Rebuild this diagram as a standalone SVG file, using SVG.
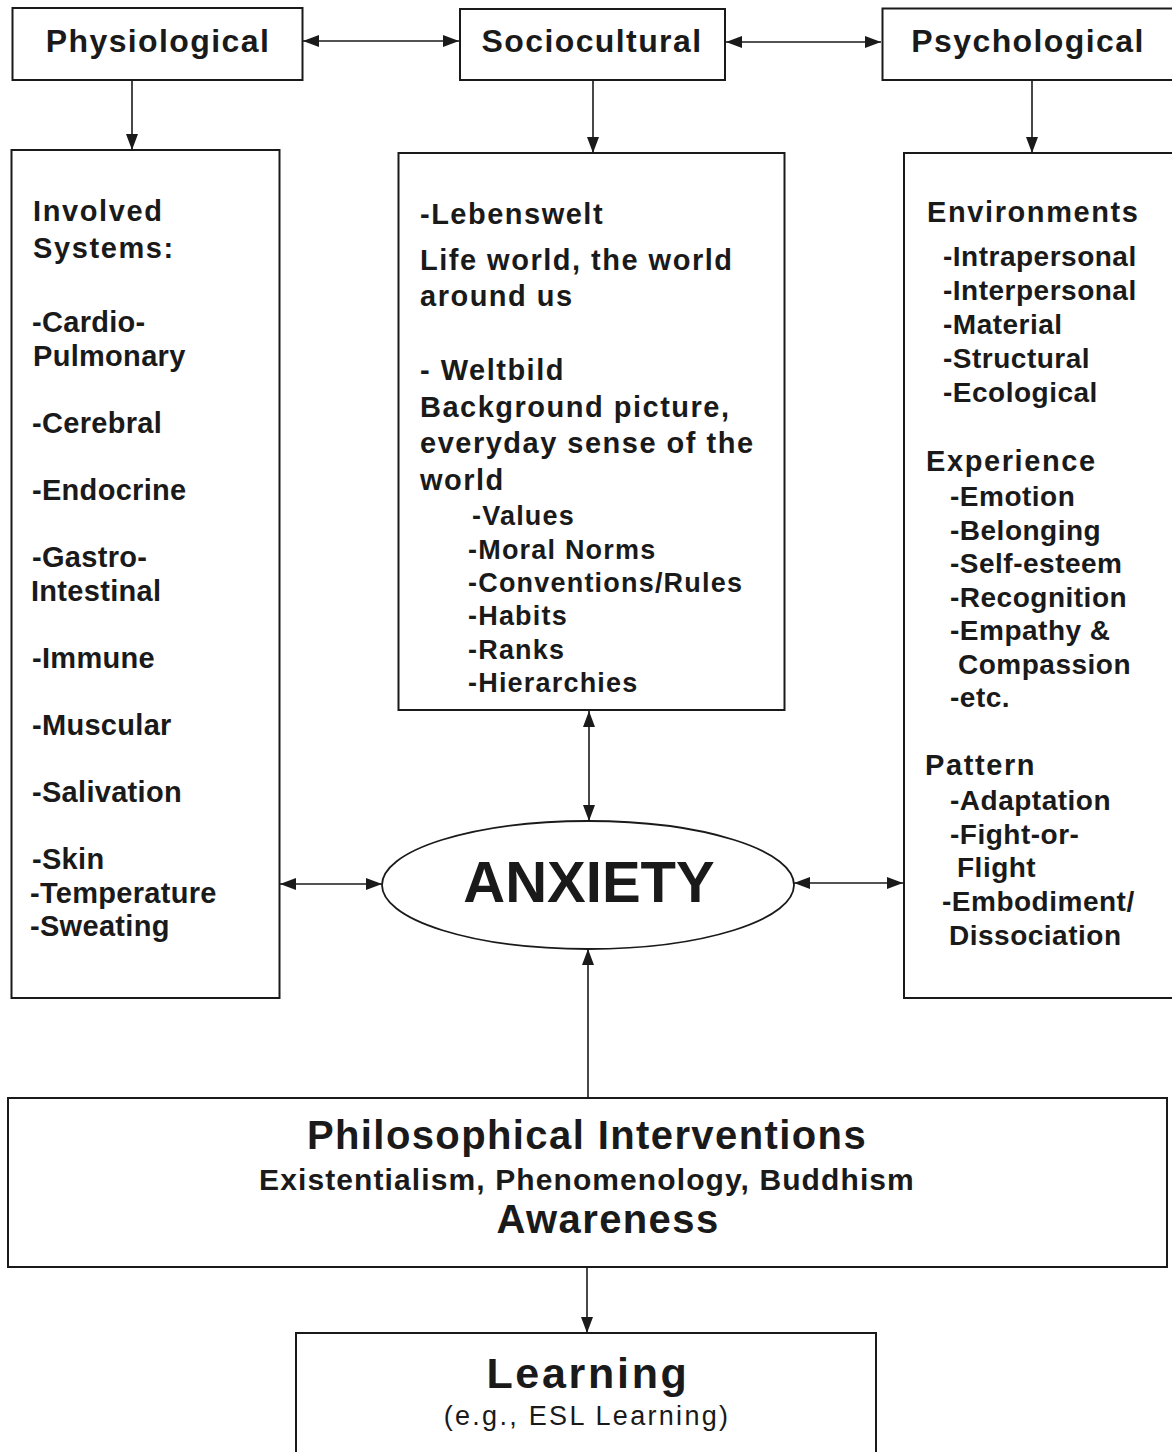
<svg xmlns="http://www.w3.org/2000/svg" width="1172" height="1452" viewBox="0 0 1172 1452">
<defs>
<marker id="ah" viewBox="0 0 16 12" refX="16" refY="6" markerWidth="16" markerHeight="12" markerUnits="userSpaceOnUse" orient="auto-start-reverse">
<path d="M0,0 L16,6 L0,12 z" fill="#1a1a1a"/>
</marker>
</defs>
<style>
text{font-family:"Liberation Sans",Arial,Helvetica,sans-serif;font-weight:bold;fill:#1a1a1a}
.box{fill:#fff;stroke:#1a1a1a;stroke-width:2}
.con{fill:none;stroke:#1a1a1a;stroke-width:1.6}
.top{font-size:32px;letter-spacing:1.4px}
.hd{font-size:29px;letter-spacing:1.6px}
.li{font-size:29px;letter-spacing:0.3px}
.mh{font-size:29px;letter-spacing:1.5px}
.ms{font-size:27px;letter-spacing:1.2px}
.ri{font-size:28px;letter-spacing:0.5px}
.c{text-anchor:middle}
</style>
<rect width="1172" height="1452" fill="#fff"/>

<g id="connectors">
<path class="con" d="M303,41 H459" marker-start="url(#ah)" marker-end="url(#ah)"/>
<path class="con" d="M726,42 H881" marker-start="url(#ah)" marker-end="url(#ah)"/>
<path class="con" d="M132,80 V150" marker-end="url(#ah)"/>
<path class="con" d="M593,80 V153" marker-end="url(#ah)"/>
<path class="con" d="M1032,80 V153" marker-end="url(#ah)"/>
<path class="con" d="M589,711 V821" marker-start="url(#ah)" marker-end="url(#ah)"/>
<path class="con" d="M280,884 H382" marker-start="url(#ah)" marker-end="url(#ah)"/>
<path class="con" d="M794,883 H903" marker-start="url(#ah)" marker-end="url(#ah)"/>
<path class="con" d="M588,1097 V949" marker-end="url(#ah)"/>
<path class="con" d="M587,1267 V1333" marker-end="url(#ah)"/>
</g>

<g id="physiological">
<rect class="box" x="12.5" y="8" width="290" height="72"/>
<text class="top c" x="158" y="52">Physiological</text>
</g>

<g id="sociocultural">
<rect class="box" x="460" y="9" width="265" height="71"/>
<text class="top c" x="592" y="52">Sociocultural</text>
</g>

<g id="psychological">
<rect class="box" x="882.5" y="8.5" width="300" height="71.5"/>
<text class="top c" x="1028" y="52">Psychological</text>
</g>

<g id="physiological-systems">
<rect class="box" x="11.5" y="150" width="268" height="848"/>
<text class="hd" x="33" y="221">Involved</text>
<text class="hd" x="33" y="258">Systems:</text>
<text class="li" x="32" y="332">-Cardio-</text>
<text class="li" x="33" y="366">Pulmonary</text>
<text class="li" x="32" y="433">-Cerebral</text>
<text class="li" x="32" y="500">-Endocrine</text>
<text class="li" x="32" y="567">-Gastro-</text>
<text class="li" x="31" y="601">Intestinal</text>
<text class="li" x="32" y="668">-Immune</text>
<text class="li" x="32" y="735">-Muscular</text>
<text class="li" x="32" y="802">-Salivation</text>
<text class="li" x="32" y="869">-Skin</text>
<text class="li" x="30" y="903">-Temperature</text>
<text class="li" x="30" y="936">-Sweating</text>
</g>

<g id="sociocultural-world">
<rect class="box" x="398.5" y="153" width="386" height="557"/>
<text class="mh" x="420" y="224">-Lebenswelt</text>
<text class="mh" x="420" y="270">Life world, the world</text>
<text class="mh" x="420" y="306">around us</text>
<text class="mh" x="420" y="380">- Weltbild</text>
<text class="mh" x="420" y="417">Background picture,</text>
<text class="mh" x="420" y="453">everyday sense of the</text>
<text class="mh" x="420" y="490">world</text>
<text class="ms" x="472" y="525">-Values</text>
<text class="ms" x="468" y="559">-Moral Norms</text>
<text class="ms" x="468" y="592">-Conventions/Rules</text>
<text class="ms" x="468" y="625">-Habits</text>
<text class="ms" x="468" y="659">-Ranks</text>
<text class="ms" x="468" y="692">-Hierarchies</text>
</g>

<g id="psychological-aspects">
<rect class="box" x="904" y="153" width="280" height="845"/>
<text class="hd" x="927" y="222">Environments</text>
<text class="ri" x="943" y="266">-Intrapersonal</text>
<text class="ri" x="943" y="300">-Interpersonal</text>
<text class="ri" x="943" y="334">-Material</text>
<text class="ri" x="943" y="368">-Structural</text>
<text class="ri" x="943" y="402">-Ecological</text>
<text class="hd" x="926" y="471">Experience</text>
<text class="ri" x="950" y="506">-Emotion</text>
<text class="ri" x="950" y="540">-Belonging</text>
<text class="ri" x="950" y="573">-Self-esteem</text>
<text class="ri" x="950" y="607">-Recognition</text>
<text class="ri" x="950" y="640">-Empathy &amp;</text>
<text class="ri" x="958" y="674">Compassion</text>
<text class="ri" x="950" y="707">-etc.</text>
<text class="hd" x="925" y="775">Pattern</text>
<text class="ri" x="950" y="810">-Adaptation</text>
<text class="ri" x="950" y="844">-Fight-or-</text>
<text class="ri" x="957" y="877">Flight</text>
<text class="ri" x="942" y="911">-Embodiment/</text>
<text class="ri" x="949" y="945">Dissociation</text>
</g>

<g id="anxiety">
<ellipse cx="588" cy="885" rx="206" ry="64" fill="#fff" stroke="#1a1a1a" stroke-width="1.8"/>
<text class="c" x="589" y="902" style="font-size:58px">ANXIETY</text>
</g>

<g id="philosophical-interventions">
<rect class="box" x="8" y="1098" width="1159" height="169"/>
<text class="c" x="587" y="1149" style="font-size:40px;letter-spacing:1.4px">Philosophical Interventions</text>
<text class="c" x="587" y="1190" style="font-size:30px;letter-spacing:1.1px">Existentialism, Phenomenology, Buddhism</text>
<text class="c" x="608" y="1233" style="font-size:40px;letter-spacing:1.4px">Awareness</text>
</g>

<g id="learning">
<rect class="box" x="296" y="1333" width="580" height="140"/>
<text class="c" x="588" y="1388" style="font-size:43px;letter-spacing:2.7px">Learning</text>
<text class="c" x="587" y="1425" style="font-size:27px;letter-spacing:2.3px;font-weight:normal">(e.g., ESL Learning)</text>
</g>
</svg>
